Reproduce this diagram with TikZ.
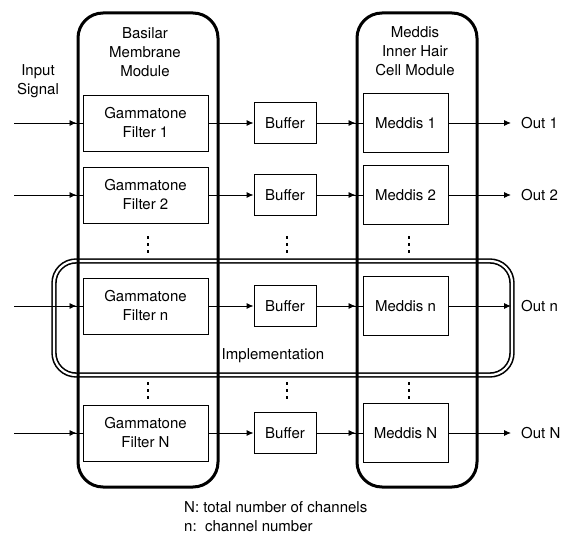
\documentclass[tikz,border=0pt]{standalone}
\usepackage{fontspec}
\setmainfont{TeX Gyre Heros}
\usetikzlibrary{arrows.meta}
\begin{document}
\begin{tikzpicture}[x=1pt,y=-1pt,
  font=\fontsize{15}{19}\selectfont,
  blk/.style={draw, line width=0.9pt, align=center, inner sep=0pt},
  filt/.style={blk, minimum width=125pt, minimum height=56pt},
  buf/.style={blk, minimum width=62pt, minimum height=41pt},
  med/.style={blk, minimum width=85pt, minimum height=59pt},
  module/.style={draw, line width=3pt, rounded corners=25pt, inner sep=0pt},
  impl/.style={draw, line width=1.6pt, double, double distance=2.2pt,
               rounded corners=22pt, inner sep=0pt},
  wire/.style={line width=0.9pt},
  flow/.style={wire, -{Latex[length=7pt,width=6pt]}},
  lbl/.style={inner sep=0pt, align=center},
  dotmark/.style={fill, rectangle, inner sep=0pt, minimum size=2.8pt}]

\useasboundingbox (0,0) rectangle (565,535);

% channel n is the implemented one
\node[impl, minimum width=458pt, minimum height=114pt] (imp) at (283,318) {};

% module frames
\node[module, minimum width=140pt, minimum height=474pt] (bm) at (148,250) {};
\node[module, minimum width=120pt, minimum height=474pt] (ihc) at (417,250) {};

% titles
\node[lbl] (inlbl) at (38,81) {Input\\Signal};
\node[lbl] (bmlbl) at (145,52) {Basilar\\Membrane\\Module};
\node[lbl] (ihclbl) at (415,51) {Meddis\\Inner Hair\\Cell Module};
\node[lbl] (impllbl) at (273,356) {Implementation};

% channel rows
\foreach \id/\y/\k in {1/123/1, 2/195/2, n/306/n, N/433/N}{
  \coordinate (in\id) at (14,\y);
  \node[filt] (f\id) at (145.5,\y) {Gammatone\\Filter \k};
  \node[buf] (b\id) at (285,\y) {Buffer};
  \node[med] (m\id) at (405.5,\y) {Meddis \k};
  \coordinate (o\id) at (511,\y);
  \node[lbl, anchor=west] (out\id) at (521,\y) {Out \k};
  % input into the filter, tip sitting on the module frame
  \draw[wire] (in\id) -- (f\id.west);
  \draw[flow] (in\id) -- (in\id -| bm.west);
  \draw[flow] (f\id) -- (b\id);
  \draw[wire] (b\id.east) -- (m\id.west);
  \draw[flow] (b\id.east) -- (b\id.east -| ihc.west);
  \draw[flow] (m\id.east) -- (o\id);
}

% vertical ellipses between the rows
\foreach \x/\c in {148/a, 287/b, 409/c}{
  \foreach \y/\r in {244.5/u, 390.5/l}{
    \node[dotmark] (d\c\r1) at (\x,\y-7) {};
    \node[dotmark] (d\c\r2) at (\x,\y) {};
    \node[dotmark] (d\c\r3) at (\x,\y+7) {};
  }
}

% legend
\node[lbl, align=left, anchor=west] (legend) at (184,517)
  {N: total number of channels\\n:\ \ channel number};
\end{tikzpicture}
\end{document}
